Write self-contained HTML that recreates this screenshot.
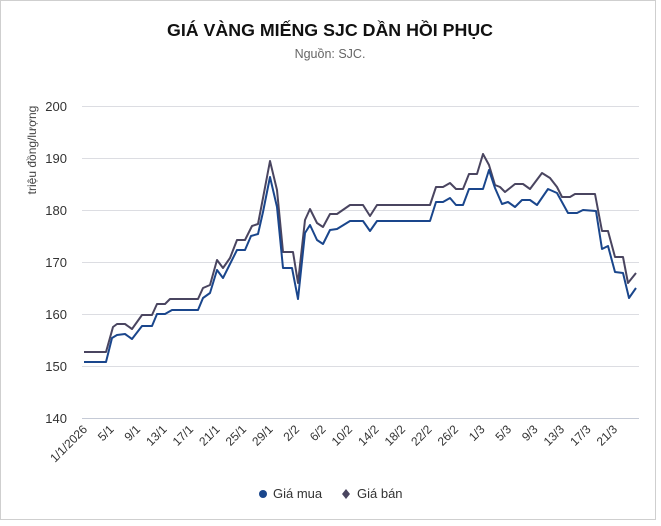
<!DOCTYPE html>
<html><head><meta charset="utf-8"><style>
html,body{margin:0;padding:0;background:#fff;}
body{width:661px;height:521px;overflow:hidden;}
</style></head><body>
<svg width="661" height="521" xmlns="http://www.w3.org/2000/svg" font-family="Liberation Sans, DejaVu Sans, sans-serif">
<rect x="0.5" y="0.5" width="655" height="519" fill="#fff" stroke="#cfcfcf"/>
<text x="330" y="36" text-anchor="middle" font-size="17.8" font-weight="bold" fill="#111">GIÁ VÀNG MIẾNG SJC DẦN HỒI PHỤC</text>
<text x="330" y="58" text-anchor="middle" font-size="12.5" fill="#666">Nguồn: SJC.</text>
<g stroke="#dcdde2" stroke-width="1">
<line x1="82" x2="639" y1="106.5" y2="106.5"/>
<line x1="82" x2="639" y1="158.5" y2="158.5"/>
<line x1="82" x2="639" y1="210.5" y2="210.5"/>
<line x1="82" x2="639" y1="262.5" y2="262.5"/>
<line x1="82" x2="639" y1="314.5" y2="314.5"/>
<line x1="82" x2="639" y1="366.5" y2="366.5"/>
<line x1="82" x2="639" y1="418.5" y2="418.5" stroke="#c5cad6"/>
</g>
<g font-size="13" fill="#333" text-anchor="end">
<text x="67" y="111">200</text><text x="67" y="163">190</text><text x="67" y="215">180</text>
<text x="67" y="267">170</text><text x="67" y="319">160</text><text x="67" y="371">150</text><text x="67" y="423">140</text>
</g>
<text transform="translate(36,150) rotate(-90)" text-anchor="middle" font-size="12" fill="#444">triệu đồng/lượng</text>
<g font-size="12" fill="#333" text-anchor="end">
<text transform="translate(88,430) rotate(-45)">1/1/2026</text>
<text transform="translate(114.5,430) rotate(-45)">5/1</text>
<text transform="translate(141,430) rotate(-45)">9/1</text>
<text transform="translate(167.5,430) rotate(-45)">13/1</text>
<text transform="translate(194,430) rotate(-45)">17/1</text>
<text transform="translate(220.5,430) rotate(-45)">21/1</text>
<text transform="translate(247,430) rotate(-45)">25/1</text>
<text transform="translate(273.5,430) rotate(-45)">29/1</text>
<text transform="translate(300,430) rotate(-45)">2/2</text>
<text transform="translate(326.5,430) rotate(-45)">6/2</text>
<text transform="translate(353,430) rotate(-45)">10/2</text>
<text transform="translate(379.5,430) rotate(-45)">14/2</text>
<text transform="translate(406,430) rotate(-45)">18/2</text>
<text transform="translate(432.5,430) rotate(-45)">22/2</text>
<text transform="translate(459,430) rotate(-45)">26/2</text>
<text transform="translate(485.5,430) rotate(-45)">1/3</text>
<text transform="translate(512,430) rotate(-45)">5/3</text>
<text transform="translate(538.5,430) rotate(-45)">9/3</text>
<text transform="translate(565,430) rotate(-45)">13/3</text>
<text transform="translate(591.5,430) rotate(-45)">17/3</text>
<text transform="translate(618,430) rotate(-45)">21/3</text>
</g>
<polyline fill="none" stroke="#4a4560" stroke-width="2" stroke-linejoin="round" points="84,352 106,352 113,327 117,324 125,324 132,329 142,315 152,315 157,304 165,304 170,299 198,299 203,288 210,285 217,260 223,268 230,258 237,240 245,240 252,226 258,224 263,198 270,161 277,190 283,252 293,252 298,283 305,220 310,209 317,223 323,227 330,214 337,214 350,205 363,205 370,216 377,205 430,205 436,187 443,187 450,183 456,189 463,189 469,174 477,174 483,154 489,165 495,185 500,187 505,192 515,184 523,184 530,189 542,173 550,178 557,187 562,197 570,197 575,194 595,194 602,231 608,231 615,257 623,257 628,283 636,273"/>
<polyline fill="none" stroke="#1a468c" stroke-width="2" stroke-linejoin="round" points="84,362 106,362 112,338 117,335 125,334 132,339 142,326 152,326 157,314 165,314 172,310 198,310 203,298 210,293 217,270 223,278 237,250 245,250 251,236 258,234 263,212 270,177 277,207 283,268 292,268 298,299 305,233 310,225 317,240 323,244 330,230 337,229 350,221 363,221 370,231 377,221 430,221 436,202 443,202 450,198 456,205 463,205 469,189 483,189 489,170 495,188 502,204 508,202 515,207 522,200 530,200 537,205 548,189 557,193 568,213 577,213 583,210 596,211 602,249 608,246 615,272 623,273 629,298 636,288"/>
<circle cx="263" cy="494" r="4" fill="#1a468c"/>
<text x="273" y="498" font-size="13" fill="#333">Giá mua</text>
<path d="M346,489 L350,494 L346,499 L342,494 Z" fill="#4a4560"/>
<text x="357" y="498" font-size="13" fill="#333">Giá bán</text>
</svg>
</body></html>
